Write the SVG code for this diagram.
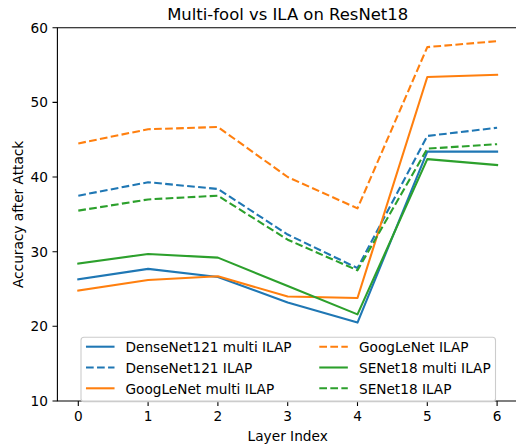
<svg xmlns="http://www.w3.org/2000/svg" width="516" height="447" viewBox="0 0 516 447">
<style>
text{font-family:"DejaVu Sans","Liberation Sans",sans-serif;fill:#000}
.tick{font-size:13.7px}
.lbl{font-size:13.7px}
.title{font-size:16.45px}
.leg{font-size:13.65px}
.spine{stroke:#000;stroke-width:1.1;fill:none;stroke-linecap:square}
.tk{stroke:#000;stroke-width:1.1}
.s{fill:none;stroke-width:2.08;stroke-linejoin:round;stroke-linecap:square}
.d{fill:none;stroke-width:2.08;stroke-linejoin:round;stroke-linecap:butt;stroke-dasharray:7.7 3.33}
.b{stroke:#1f77b4}
.o{stroke:#ff7f0e}
.g{stroke:#2ca02c}
</style>
<rect width="516" height="447" fill="#fff"/>
<g id="series">
<polyline id="dense-multi" class="s b" points="78.3,279.3 148.1,268.85 217.9,277.06 287.7,302.45 357.5,322.61 427.3,151.64 497.1,151.64"/>
<polyline id="dense-ilap" class="d b" points="78.3,195.68 148.1,182.25 217.9,188.97 287.7,234.51 357.5,268.11 427.3,135.96 497.1,127.74"/>
<polyline id="goog-multi" class="s o" points="78.3,290.5 148.1,280.05 217.9,276.32 287.7,296.48 357.5,297.97 427.3,76.98 497.1,74.74"/>
<polyline id="goog-ilap" class="d o" points="78.3,143.42 148.1,129.24 217.9,127.0 287.7,177.02 357.5,208.38 427.3,47.11 497.1,41.14"/>
<polyline id="se-multi" class="s g" points="78.3,263.63 148.1,253.92 217.9,257.65 287.7,286.02 357.5,314.39 427.3,159.1 497.1,165.07"/>
<polyline id="se-ilap" class="d g" points="78.3,210.62 148.1,199.42 217.9,195.68 287.7,239.73 357.5,270.34 427.3,148.65 497.1,144.17"/>
</g>
<g id="axes">
<path class="spine" d="M57.4,401 V27.7 M57.4,27.7 H518 M57.4,401 H518"/>
<g id="yticks">
<path class="tk" d="M52.5,401H57.4M52.5,326.3H57.4M52.5,251.7H57.4M52.5,177H57.4M52.5,102.4H57.4M52.5,27.7H57.4"/>
<text class="tick" x="48" y="406" text-anchor="end">10</text>
<text class="tick" x="48" y="331.3" text-anchor="end">20</text>
<text class="tick" x="48" y="256.7" text-anchor="end">30</text>
<text class="tick" x="48" y="182" text-anchor="end">40</text>
<text class="tick" x="48" y="107.4" text-anchor="end">50</text>
<text class="tick" x="48" y="32.7" text-anchor="end">60</text>
</g>
<g id="xticks">
<path class="tk" d="M78.3,401V406M148.1,401V406M217.9,401V406M287.7,401V406M357.5,401V406M427.3,401V406M497.1,401V406"/>
<text class="tick" x="78.3" y="421" text-anchor="middle">0</text>
<text class="tick" x="148.1" y="421" text-anchor="middle">1</text>
<text class="tick" x="217.9" y="421" text-anchor="middle">2</text>
<text class="tick" x="287.7" y="421" text-anchor="middle">3</text>
<text class="tick" x="357.5" y="421" text-anchor="middle">4</text>
<text class="tick" x="427.3" y="421" text-anchor="middle">5</text>
<text class="tick" x="497.1" y="421" text-anchor="middle">6</text>
</g>
<text class="lbl" x="287.7" y="440.5" text-anchor="middle">Layer Index</text>
<text class="lbl" transform="translate(23,214.4) rotate(-90)" text-anchor="middle">Accuracy after Attack</text>
<text class="title" x="287.7" y="20" text-anchor="middle">Multi-fool vs ILA on ResNet18</text>
</g>
<g id="legend">
<rect x="81" y="337.3" width="414.5" height="64.5" rx="3" fill="#fff" fill-opacity="0.8" stroke="#cccccc" stroke-width="1.1"/>
<line class="s b" x1="87" y1="346.7" x2="113.5" y2="346.7"/>
<text class="leg" x="125.5" y="352">DenseNet121 multi ILAP</text>
<line class="d b" x1="86" y1="367.5" x2="114.5" y2="367.5"/>
<text class="leg" x="125.5" y="372.8">DenseNet121 ILAP</text>
<line class="s o" x1="87" y1="388.3" x2="113.5" y2="388.3"/>
<text class="leg" x="125.5" y="393.6">GoogLeNet multi ILAP</text>
<line class="d o" x1="319.3" y1="346.7" x2="347.8" y2="346.7"/>
<text class="leg" x="359" y="352">GoogLeNet ILAP</text>
<line class="s g" x1="320.3" y1="367.5" x2="346.8" y2="367.5"/>
<text class="leg" x="359" y="372.8">SENet18 multi ILAP</text>
<line class="d g" x1="319.3" y1="388.3" x2="347.8" y2="388.3"/>
<text class="leg" x="359" y="393.6">SENet18 ILAP</text>
</g>
</svg>
